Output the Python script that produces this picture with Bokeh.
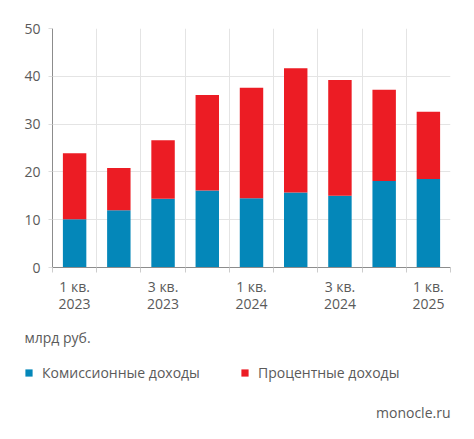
from bokeh.plotting import figure
from bokeh.models import ColumnDataSource, Range1d, FixedTicker, Legend, LegendItem, LinearAxis
from bokeh.layouts import column
from bokeh.core.properties import value
from bokeh.embed import file_html
from bokeh.resources import INLINE

quarters = ["1 кв.", "2 кв.", "3 кв.", "4 кв.", "1 кв.", "2 кв.", "3 кв.", "4 кв.", "1 кв."]
years = ["2023", "2023", "2023", "2023", "2024", "2024", "2024", "2024", "2025"]
commission = [10.1, 12.0, 14.4, 16.1, 14.5, 15.7, 15.0, 18.1, 18.5]
interest = [13.8, 8.8, 12.2, 20.0, 23.1, 26.0, 24.2, 19.1, 14.1]
y_ticks = [0, 10, 20, 30, 40, 50]
series_names = ["Комиссионные доходы", "Процентные доходы"]
unit_text = "млрд руб."
source_text = "monocle.ru"

BLUE = "#0487B9"
RED = "#EC1C24"
TEXT = "#5a5a5a"
FONT = "Open Sans"

W, H1, H2 = 474, 320, 119
n = len(quarters)
labelled = list(range(0, n, 2))
source = ColumnDataSource(dict(x=list(range(n)), commission=commission, interest=interest))

p = figure(width=W, height=H1, output_backend="svg", toolbar_location=None,
           x_range=Range1d(-0.5, n - 0.5), y_range=Range1d(0, 50),
           min_border_left=52, min_border_right=24, min_border_top=28,
           min_border_bottom=53)
p.frame_align = False
p.outline_line_color = None
p.background_fill_color = "white"
p.border_fill_color = "white"

rs = p.vbar_stack(["commission", "interest"], x="x", width=0.53,
                  fill_color=[BLUE, RED], line_color=None, source=source)

# grids
p.xgrid.ticker = FixedTicker(ticks=[i - 0.5 for i in range(n + 1)])
p.ygrid.ticker = FixedTicker(ticks=y_ticks)
for g in (p.xgrid[0], p.ygrid[0]):
    g.grid_line_color = "#e4e4e4"
    g.grid_line_width = 1

# x axis: quarter line
xa = p.xaxis[0]
xa.ticker = FixedTicker(ticks=labelled, minor_ticks=[i - 0.5 for i in range(n + 1)])
xa.major_label_overrides = {i: quarters[i] for i in labelled}
xa.major_tick_out = 0
xa.major_tick_in = 0
xa.minor_tick_out = 5
xa.minor_tick_in = 0
xa.minor_tick_line_color = "#cccccc"
xa.axis_line_color = "#8c8c8c"
xa.major_label_standoff = 4
xa.major_label_text_font = FONT
xa.major_label_text_font_size = "14px"
xa.major_label_text_color = TEXT

# second x axis: year line
xa2 = LinearAxis(ticker=FixedTicker(ticks=labelled),
                 major_label_overrides={i: years[i] for i in labelled},
                 axis_line_color=None, major_tick_line_color=None, minor_tick_line_color=None,
                 major_tick_out=0, major_tick_in=0, minor_tick_out=0, minor_tick_in=0,
                 major_label_standoff=0, major_label_text_font=FONT,
                 major_label_text_font_size="14px", major_label_text_color=TEXT)
p.add_layout(xa2, "below")

# y axis
ya = p.yaxis[0]
ya.ticker = FixedTicker(ticks=y_ticks)
ya.major_tick_out = 4
ya.major_tick_in = 0
ya.minor_tick_out = 0
ya.major_tick_line_color = "#dddddd"
ya.axis_line_color = "#8c8c8c"
ya.major_label_standoff = 8
ya.major_label_text_font = FONT
ya.major_label_text_font_size = "14px"
ya.major_label_text_color = TEXT

# lower panel: unit, legend, source (coordinates in page pixels)
q = figure(width=W, height=H2, output_backend="svg", toolbar_location=None,
           x_range=Range1d(0, W), y_range=Range1d(H1 + H2, H1),
           x_axis_location=None, y_axis_location=None,
           min_border=0, min_border_left=0, min_border_right=0,
           min_border_top=0, min_border_bottom=0)
q.frame_align = False
q.outline_line_color = None
q.xgrid.visible = False
q.ygrid.visible = False
q.background_fill_color = "white"
q.border_fill_color = "white"

q.text(x=[24], y=[337], text=[unit_text], text_baseline="middle", text_align="left",
       text_font=value(FONT), text_font_size="14px", text_color=TEXT)
q.text(x=[450], y=[412], text=[source_text], text_baseline="middle", text_align="right",
       text_font=value(FONT), text_font_size="14px", text_color=TEXT)

swatches = [q.vbar(x="x", top=col, width=0.53, fill_color=c, line_color=None,
                   source=source, visible=False)
            for col, c in (("commission", BLUE), ("interest", RED))]
for r, name, lx in zip(swatches, series_names, [24, 240]):
    lg = Legend(items=[LegendItem(label=name, renderers=[r])], location=(lx, H1 + H2 - 373 - 9),
                orientation="horizontal", padding=0, margin=0, spacing=0,
                border_line_color=None, background_fill_alpha=0,
                inactive_fill_alpha=0,
                glyph_width=9, glyph_height=9, label_standoff=9,
                label_text_font=FONT, label_text_font_size="14px",
                label_text_color=TEXT, label_height=14)
    q.add_layout(lg)

layout = column(p, q, spacing=0)
open("out.html", "w").write(file_html(layout, INLINE))
